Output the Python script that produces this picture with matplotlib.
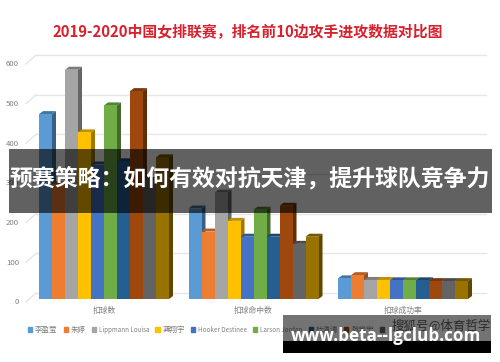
import matplotlib.pyplot as plt
from matplotlib.patches import Polygon, Rectangle
from matplotlib.colors import to_rgb
from matplotlib.transforms import ScaledTranslation

plt.rcParams['font.family'] = ['Noto Sans CJK SC', 'DejaVu Sans']

# Values (bars behind the banner are estimates)
categories = ['扣球数', '扣球命中数', '扣球成功率']
players = ['李盈莹', '朱婷', 'Lippmann Louisa', '龚翔宇', 'Hooker Destinee',
           'Larson Jordan', '杜清清', '张常宁', '']
spikes = [466, 289, 578, 420, 339, 488, 347, 524, 300, 357]
spike_hits = [228, 170, 268, 197, 157, 225, 157, 235, 139, 157]
spike_rate = [52, 60, 48, 48, 47, 47, 47, 45, 45, 45]
colors = ['#5B9BD5', '#ED7D31', '#A5A5A5', '#FFC000', '#4472C4',
          '#70AD47', '#255E91', '#9E480E', '#636363', '#997300']
yticks = [0, 100, 200, 300, 400, 500, 600]

W, H = 500, 362
PX_X = 149.5          # pixels per category
PX_Y = 0.3967         # pixels per value unit
BAR_W = 13 / PX_X
DX, DY = 4 / PX_X, 3 / PX_Y   # bar depth


def shade(c, f):
    return tuple(v * f for v in to_rgb(c))


fig = plt.figure(figsize=(W / 100, H / 100), dpi=100)
ax = fig.add_axes([28 / W, (H - 299) / H, 460 / W, 259 / H])
ax.set_xlim((28 - 104) / PX_X, (488 - 104) / PX_X)
ax.set_ylim(0, 259 / PX_Y)
for s in ax.spines.values():
    s.set_visible(False)

# back wall gridlines, with the short diagonal on the left side
for v in yticks:
    yb = v + 6 / PX_Y
    ax.plot([(36 - 104) / PX_X, (486 - 104) / PX_X], [yb, yb], color='#e6e6e6', lw=1, zorder=1)
    ax.plot([(26 - 104) / PX_X, (36 - 104) / PX_X], [yb - 9 / PX_Y, yb], color='#e6e6e6',
            lw=1, zorder=1, clip_on=False)

# bars with a fake 3D side and top
series = [spikes, spike_hits, spike_rate]
for g, vals in enumerate(series):
    for i, v in enumerate(vals):
        x0 = g - 5 * BAR_W + i * BAR_W
        z = 2 + g * 20 + i
        ax.bar(x0, v, width=BAR_W, align='edge', color=colors[i], zorder=z + 0.5, clip_on=False)
        ax.add_patch(Polygon([(x0 + BAR_W, 0), (x0 + BAR_W + DX, DY), (x0 + BAR_W + DX, v + DY),
                              (x0 + BAR_W, v)], color=shade(colors[i], 0.62), lw=0, zorder=z, clip_on=False))
        ax.add_patch(Polygon([(x0, v), (x0 + DX, v + DY), (x0 + BAR_W + DX, v + DY),
                              (x0 + BAR_W, v)], color=shade(colors[i], 0.75), lw=0, zorder=z, clip_on=False))

ax.set_yticks(yticks)
ax.set_xticks(range(len(categories)))
ax.set_xticklabels(categories, fontsize=5.6, color='#808080')
ax.tick_params(axis='both', length=0)
ax.tick_params(axis='x', pad=5.5)
ax.tick_params(axis='y', pad=6.5, labelsize=5.6, labelcolor='#808080')
shift = ScaledTranslation(0, -2.5 / 100, fig.dpi_scale_trans)
for lab in ax.get_yticklabels():
    lab.set_transform(lab.get_transform() + shift)

handles = [Rectangle((0, 0), 1, 1, color=c) for c in colors[:len(players)]]
leg = ax.legend(handles, players, loc='center left', bbox_to_anchor=(28 / W, 1 - 330 / H),
                bbox_transform=fig.transFigure, ncol=len(players), frameon=False, fontsize=5.4,
                labelcolor='#808080', handlelength=0.55, handleheight=0.55, handletextpad=0.4,
                columnspacing=0.8, borderpad=0, borderaxespad=0)
for t in leg.get_texts():
    if t.get_text().isascii():
        t.set_fontsize(4.5)

# overlay in pixel coordinates: title, banner and watermark
ov = fig.add_axes([0, 0, 1, 1], zorder=5)
ov.set_xlim(0, W)
ov.set_ylim(H, 0)
ov.axis('off')
ov.text(248, 32, '2019-2020中国女排联赛，排名前10边攻手进攻数据对比图', color='#d9202c',
        fontsize=10.7, fontweight='bold', ha='center', va='center')
ov.add_patch(Rectangle((9, 149), 483, 64, color='black', alpha=0.62, lw=0))
ov.text(250, 180, '预赛策略：如何有效对抗天津，提升球队竞争力', color='white',
        fontsize=16.5, fontweight='bold', ha='center', va='center')
ov.add_patch(Rectangle((283, 315), 208, 26, color='black', alpha=0.55, lw=0))
ov.add_patch(Rectangle((283, 341), 208, 12, color='black', lw=0))
ov.text(441, 326, '搜狐号@体育哲学', color='#2a2a2a', fontsize=9, ha='center', va='center')
ov.text(386, 336, 'www.beta--lgclub.com', color='white', fontsize=12.3,
        family='Open Sans', fontweight='bold', ha='center', va='center')

fig.savefig('out.png', dpi=100)
